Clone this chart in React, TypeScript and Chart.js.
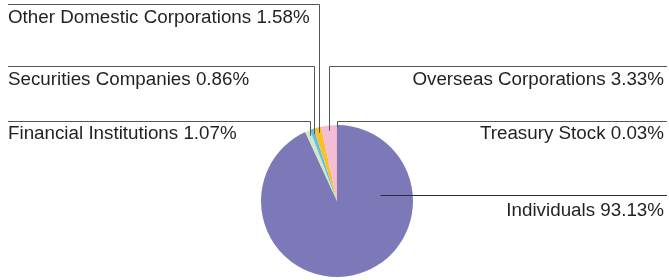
import React, { useEffect, useRef } from "react";
import { Chart, registerables } from "chart.js";

Chart.register(...registerables);

// Data
const categories = [
  "Individuals",
  "Financial Institutions",
  "Securities Companies",
  "Other Domestic Corporations",
  "Overseas Corporations",
  "Treasury Stock",
];
const shares = [93.13, 1.07, 0.86, 1.58, 3.33, 0.03];
const colors = ["#7d79b8", "#d5e8c3", "#5cc2ea", "#f8c12c", "#f3bdd6", "#e0507e"];

// Label layout (per category index)
const labelSide = ["right", "left", "left", "left", "right", "right"];
const labelLineY = [195.5, 121.5, 66.5, 4.5, 66.5, 121.5];
const labelTextY = [216, 139, 85, 23, 85, 139];
const anchorRadius = [0.57, 0.93, 0.93, 0.93, 0.93, 0.97];
const anchorAngleDeg: (number | null)[] = [83, null, null, null, null, null];

const FONT = '18.8px "Liberation Sans", Arial, Helvetica, sans-serif';

const leaderPlugin = {
  id: "leaders",
  afterDraw(chart: any) {
    const ctx = chart.ctx;
    const meta = chart.getDatasetMeta(0);
    const W = chart.width;
    ctx.save();
    ctx.font = FONT;
    ctx.textBaseline = "alphabetic";
    meta.data.forEach((arc: any, i: number) => {
      const p = arc.getProps(["x", "y", "startAngle", "endAngle", "outerRadius"], true);
      let ang = (p.startAngle + p.endAngle) / 2;
      if (anchorAngleDeg[i] !== null) ang = ((anchorAngleDeg[i] as number) - 90) * Math.PI / 180;
      const r = p.outerRadius * anchorRadius[i];
      const ax = Math.round(p.x + r * Math.cos(ang)) + 0.5;
      const ay = p.y + r * Math.sin(ang);
      const ly = labelLineY[i];
      ctx.strokeStyle = i === 0 ? "#2a2a3a" : "#555555";
      ctx.lineWidth = 1;
      ctx.beginPath();
      if (i === 0) {
        ctx.moveTo(ax, ly);
        ctx.lineTo(W - 2, ly);
      } else if (labelSide[i] === "left") {
        ctx.moveTo(8, ly);
        ctx.lineTo(ax, ly);
        ctx.lineTo(ax, ay);
      } else {
        ctx.moveTo(W - 2, ly);
        ctx.lineTo(ax, ly);
        ctx.lineTo(ax, ay);
      }
      ctx.stroke();
      const text = `${categories[i]} ${shares[i].toFixed(2)}%`;
      ctx.fillStyle = "#231f20";
      if (labelSide[i] === "left") {
        ctx.textAlign = "left";
        ctx.fillText(text, 8, labelTextY[i]);
      } else {
        ctx.textAlign = "right";
        ctx.fillText(text, W - 5, labelTextY[i]);
      }
    });
    ctx.restore();
  },
};

export default function App() {
  const ref = useRef<HTMLCanvasElement | null>(null);
  useEffect(() => {
    document.body.style.margin = "0";
    const chart = new Chart(ref.current as HTMLCanvasElement, {
      type: "pie",
      data: {
        labels: categories,
        datasets: [
          {
            data: shares,
            backgroundColor: colors,
            borderWidth: 0,
          },
        ],
      },
      options: {
        animation: false,
        responsive: false,
        maintainAspectRatio: false,
        layout: { padding: { left: 261, right: 256, top: 125, bottom: 3 } },
        plugins: {
          legend: { display: false },
          tooltip: { enabled: false },
        },
      },
      plugins: [leaderPlugin],
    });
    return () => chart.destroy();
  }, []);
  return (
    <div style={{ position: "absolute", left: 0, top: 0, width: 669, height: 280, background: "#fff" }}>
      <canvas ref={ref} width={669} height={280} style={{ width: 669, height: 280, display: "block" }} />
    </div>
  );
}
